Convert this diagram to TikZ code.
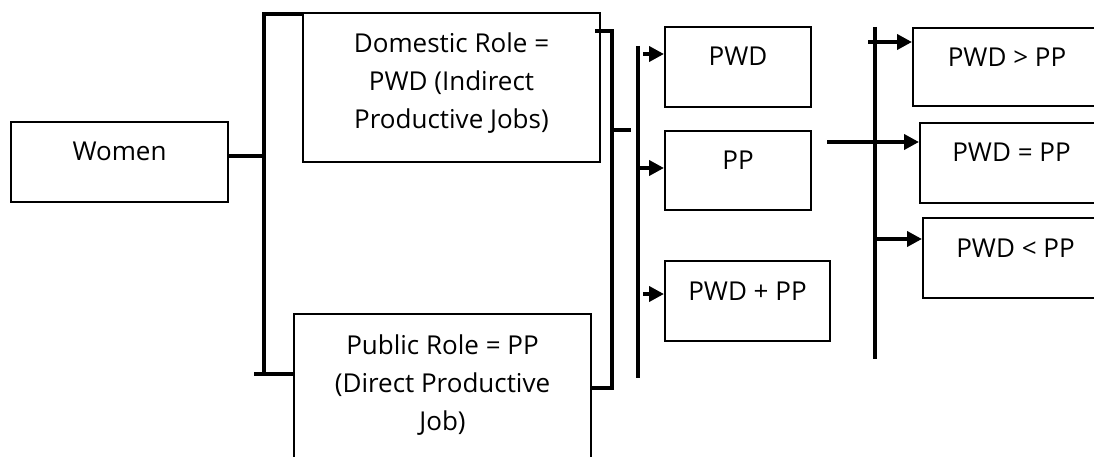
\documentclass[tikz,border=0pt]{standalone}
\usepackage{fontspec}
\setmainfont{Open Sans}
\usetikzlibrary{arrows.meta}

\begin{document}
\begin{tikzpicture}[x=1pt,y=-1pt,
  box/.style={draw,line width=2pt,inner sep=0pt,anchor=north west,align=center,
    font=\fontsize{26}{38}\selectfont},
  onebox/.style={box,text height=39pt,text depth=#1},
  bar/.style={line width=4pt},
  arr/.style={line width=4pt,-{Triangle[length=15pt,width=15pt]}}]
\useasboundingbox (0,0) rectangle (1094,457);
\clip (0,0) rectangle (1094,457);
% Women and the two roles
\node[onebox=41pt,minimum width=217pt] (women) at (10,121) {Women};
\node[box,minimum width=297pt,text height=116pt,text depth=33pt] (dom) at (302,12)
  {Domestic Role =\\PWD (Indirect\\Productive Jobs)};
\node[box,minimum width=297pt,text height=116pt,text depth=41pt] (pub) at (293,313)
  {Public Role = PP\\(Direct Productive\\Job)};
% Middle column
\node[onebox=41pt,minimum width=146pt] (pwd) at (664,26) {PWD};
\node[onebox=40pt,minimum width=146pt] (pp) at (664,130) {PP};
\node[onebox=41pt,minimum width=165pt] (both) at (664,260) {PWD + PP};
% Right column (cut by the edge)
\node[onebox=39pt,minimum width=188pt] (gt) at (912,27) {PWD > PP};
\node[onebox=41pt,minimum width=183pt] (eq) at (919,122) {PWD = PP};
\node[onebox=41pt,minimum width=185pt] (lt) at (922,217) {PWD < PP};

% First bracket
\coordinate (b1top) at (264,14);
\coordinate (b1bot) at (264,374);
\draw[bar] (b1top -| dom.west) -- (b1top) -- (b1bot) -- (b1bot -| pub.west);
\draw[bar] ([xshift=-10pt]b1bot) -- (b1bot);
\draw[bar] ([yshift=6pt]women.east) -- ([yshift=6pt]women.east -| b1top);

% Second bracket
\coordinate (b2top) at (612,31);
\coordinate (b2bot) at (612,388);
\coordinate (b2mid) at (612,130);
\coordinate (b2out) at (631,130);
\draw[bar] ([xshift=-6pt]b2top -| dom.east) -- (b2top) -- (b2bot) -- (b2bot -| pub.east);
\draw[bar] (b2mid) -- (b2out);

% Third bar and its arrows
\coordinate (b3top) at (638,46);
\coordinate (b3bot) at (638,378);
\draw[bar] (b3top) -- (b3bot);
\coordinate (a1) at (643,54);
\coordinate (a2) at (638,168);
\coordinate (a3) at (643,294);
\draw[arr] (a1) -- (a1 -| pwd.west);
\draw[arr] (a2) -- (a2 -| pp.west);
\draw[arr] (a3) -- (a3 -| both.west);

% Fourth bar and its arrows
\coordinate (b4top) at (875,27);
\coordinate (b4bot) at (875,359);
\draw[bar] (b4top) -- (b4bot);
\coordinate (c1) at (868,42);
\coordinate (c2) at (827,142);
\coordinate (c3) at (875,239);
\draw[arr] (c1) -- (c1 -| gt.west);
\draw[arr] (c2) -- (c2 -| eq.west);
\draw[arr] (c3) -- (c3 -| lt.west);
\end{tikzpicture}
\end{document}
